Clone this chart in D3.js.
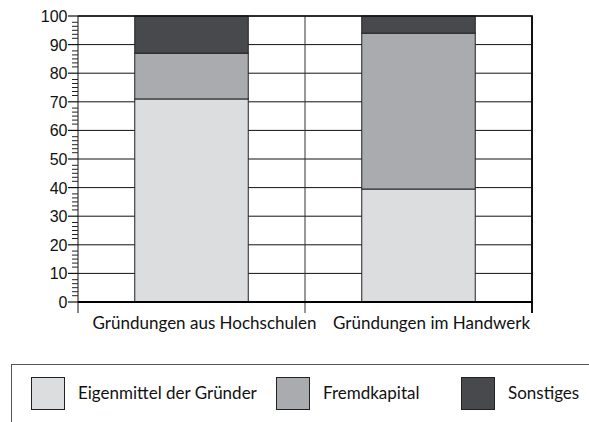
<!DOCTYPE html>
<html>
<head>
<meta charset="utf-8">
<script src="https://cdnjs.cloudflare.com/ajax/libs/d3/7.8.5/d3.min.js"></script>
<style>
  body { margin: 0; background: white; }
  svg { display: block; }
</style>
</head>
<body>
<svg id="mainSvg" width="589" height="422"></svg>
<script>
// chart data
var categories = ["Gründungen aus Hochschulen", "Gründungen im Handwerk"];
var seriesNames = ["Eigenmittel der Gründer", "Fremdkapital", "Sonstiges"];
var eigenmittel = [71, 39.5];
var fremdkapital = [16, 54.5];
var sonstiges = [13, 6];
var yTicks = [0, 10, 20, 30, 40, 50, 60, 70, 80, 90, 100];

var colors = ["#dcdddf", "#aaabae", "#48494d"];

var svg = d3.select("#mainSvg");
// note: "top" is taken by window.top, so plot edges get their own names
var plotLeft = 78, plotRight = 532, plotTop = 16, plotBottom = 302;

var y = d3.scaleLinear().domain([0, 100]).range([plotBottom, plotTop]);
var cell = d3.scaleBand().domain(categories).range([plotLeft, plotRight]).padding(0);

var table = categories.map(function(c, i) {
  return { cat: c, "Eigenmittel der Gründer": eigenmittel[i], "Fremdkapital": fremdkapital[i], "Sonstiges": sonstiges[i] };
});
var stacked = d3.stack().keys(seriesNames)(table);

// gridlines (behind bars)
svg.append("g").selectAll("line")
  .data(yTicks.slice(1))
  .enter().append("line")
    .attr("x1", plotLeft)
    .attr("x2", plotRight)
    .attr("y1", function(d) { return y(d); })
    .attr("y2", function(d) { return y(d); })
    .attr("stroke", "#111")
    .attr("stroke-width", 1);

// category divider lines, extended below baseline
svg.append("g").selectAll("line")
  .data([plotLeft, plotLeft + cell.step(), plotRight])
  .enter().append("line")
    .attr("x1", function(d) { return d; })
    .attr("x2", function(d) { return d; })
    .attr("y1", plotTop)
    .attr("y2", plotBottom + 11)
    .attr("stroke", function(d, i) { return i == 1 ? "#333" : "#111"; })
    .attr("stroke-width", function(d, i) { return i == 2 ? 2 : 1; });

// bars
svg.append("g").selectAll("g")
  .data(stacked)
  .enter().append("g")
    .attr("fill", function(d, i) { return colors[i]; })
  .selectAll("rect")
  .data(function(d) { return d; })
  .enter().append("rect")
    .attr("x", function(d) { return cell(d.data.cat) + cell.bandwidth() * 0.25; })
    .attr("width", cell.bandwidth() * 0.5)
    .attr("y", function(d) { return y(d[1]); })
    .attr("height", function(d) { return y(d[0]) - y(d[1]); })
    .attr("stroke", "#222")
    .attr("stroke-width", 1);

// top and bottom frame
svg.append("line")
  .attr("x1", plotLeft).attr("x2", plotRight + 1)
  .attr("y1", plotTop).attr("y2", plotTop)
  .attr("stroke", "#111").attr("stroke-width", 1.3);
svg.append("line")
  .attr("x1", plotLeft).attr("x2", plotRight + 1)
  .attr("y1", plotBottom).attr("y2", plotBottom)
  .attr("stroke", "#000").attr("stroke-width", 2.2);

// y axis ticks
var minor = [];
for (var k = 0; k < 10; k++) {
  [-2.8, -1.4, 0, 1.4, 2.8].forEach(function(o) { minor.push(k * 10 + 5 + o); });
}
svg.append("g").selectAll("line")
  .data(minor)
  .enter().append("line")
    .attr("x1", plotLeft - 6)
    .attr("x2", plotLeft)
    .attr("y1", function(d) { return y(d); })
    .attr("y2", function(d) { return y(d); })
    .attr("stroke", "#222")
    .attr("stroke-width", 1);
svg.append("g").selectAll("line")
  .data(yTicks)
  .enter().append("line")
    .attr("x1", plotLeft - 10)
    .attr("x2", plotLeft)
    .attr("y1", function(d) { return y(d); })
    .attr("y2", function(d) { return y(d); })
    .attr("stroke", "#111")
    .attr("stroke-width", 1.2);
svg.append("g").selectAll("text")
  .data(yTicks)
  .enter().append("text")
    .attr("x", plotLeft - 10.5)
    .attr("y", function(d) { return y(d); })
    .attr("dy", "0.38em")
    .attr("text-anchor", "end")
    .attr("font-family", "Liberation Sans, Arial, sans-serif")
    .attr("font-size", 16)
    .attr("fill", "#111")
    .text(function(d) { return d; });

// category labels
svg.append("g").selectAll("text")
  .data(categories)
  .enter().append("text")
    .attr("x", function(d) { return cell(d) + cell.bandwidth() / 2 + 13; })
    .attr("y", 328.5)
    .attr("text-anchor", "middle")
    .attr("font-family", "Lato, sans-serif")
    .attr("font-size", 17)
    .attr("fill", "#111")
    .text(function(d) { return d; });

// legend
svg.append("rect")
  .attr("x", 11.5)
  .attr("y", 364.5)
  .attr("width", 600)
  .attr("height", 100)
  .attr("fill", "none")
  .attr("stroke", "#555")
  .attr("stroke-width", 1);

var legendX = [31, 276, 461];
var leg = svg.append("g").selectAll("g")
  .data(seriesNames)
  .enter().append("g")
    .attr("transform", function(d, i) { return "translate(" + legendX[i] + ",377)"; });
leg.append("rect")
  .attr("x", 0.5)
  .attr("y", 0.5)
  .attr("width", 33)
  .attr("height", 32)
  .attr("fill", function(d, i) { return colors[i]; })
  .attr("stroke", "#222")
  .attr("stroke-width", 1);
leg.append("text")
  .attr("x", 47)
  .attr("y", 22)
  .attr("font-family", "Lato, sans-serif")
  .attr("font-size", 17)
  .attr("fill", "#111")
  .text(function(d) { return d; });
</script>
</body>
</html>
